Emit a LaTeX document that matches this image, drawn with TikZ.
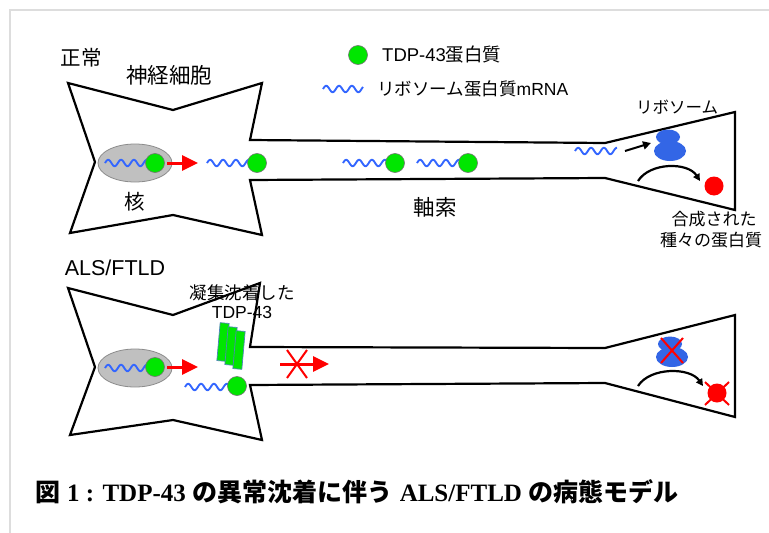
\documentclass[tikz,border=0pt]{standalone}
\usepackage{fontspec}
\setmainfont{Liberation Sans}
\newfontfamily\jp{Noto Sans CJK JP}
\newfontfamily\capserif{Liberation Serif}
\usetikzlibrary{arrows.meta}

\definecolor{mrnablue}{RGB}{51,102,255}
\definecolor{tdpgreen}{RGB}{0,230,0}
\definecolor{ribblue}{RGB}{51,102,230}
\definecolor{nucgray}{RGB}{192,192,192}
\definecolor{nucedge}{RGB}{140,140,140}
\definecolor{framegray}{RGB}{221,221,221}
\definecolor{barblue}{RGB}{79,129,189}
\definecolor{hitred}{RGB}{255,0,0}

% mRNA drawn as a short sine wave: start x, end x, baseline y
\newcommand\mrnawave[3]{%
  \draw[wave] plot[domain=#1:#2, samples=70, smooth]
    (\x, {#3 - 3.2*sin(28*(\x-#1))});}

\tikzset{
  cell/.style={draw=black, line width=2.2pt, line join=miter, fill=white},
  wave/.style={draw=mrnablue, line width=1.9pt},
  tdp/.style={circle, draw=black!55, line width=0.6pt, fill=tdpgreen,
    minimum size=19pt, inner sep=0pt},
  prod/.style={circle, fill=hitred, minimum size=19pt, inner sep=0pt},
  aggbar/.style={draw=barblue, line width=0.7pt, fill=tdpgreen,
    minimum width=9pt, minimum height=38pt, inner sep=0pt, rotate=-5},
  lab/.style={inner sep=0pt, font=\fontsize{17.5}{20}\selectfont},
  biglab/.style={inner sep=0pt, font=\fontsize{21.5}{24}\selectfont},
  transport/.style={draw=hitred, line width=3pt,
    -{Triangle[length=16pt,width=15pt]}},
  transl/.style={draw=black, line width=2pt, -{Triangle[length=8pt,width=8pt]}},
  synth/.style={draw=black, line width=2.2pt, -{Triangle[length=7pt,width=7pt]}},
  cross/.style={draw=hitred, line width=2pt},
}

\begin{document}
\begin{tikzpicture}[x=1pt, y=-1pt]
\useasboundingbox (0,0) rectangle (769,533);
\fill[white] (0,0) rectangle (769,533);
% page frame
\draw[framegray, line width=2pt] (10,533) -- (10,10) -- (769,10);

% ---------- normal neuron ----------
\draw[cell] (68,83) -- (173,110) -- (262,83) -- (250,140) -- (605,143)
  -- (735,112) -- (735,210) -- (605,178) -- (250,180) -- (262,235)
  -- (173,215) -- (70,233) -- (95,162) -- cycle;

\node[biglab, font=\fontsize{20.5}{22}\selectfont] (normal) at (81,58) {\jp 正常};
\node[biglab] (neuron) at (169,75) {\jp 神経細胞};

% legend
\node[tdp] (legdot) at (358,55) {};
\node[lab, anchor=west, font=\fontsize{18.5}{20}\selectfont] (legtdp) at (382,55) {TDP-43{\jp 蛋白質}};
\mrnawave{323}{363}{89}
\node[lab, anchor=west] (legrna) at (377,89) {{\jp リボソーム蛋白質}mRNA};

% nucleus
\fill[nucgray, draw=nucedge, line width=0.8pt] (135,163) ellipse [x radius=37, y radius=19];
\mrnawave{105}{147}{163}
\node[tdp] (n1) at (155,163) {};
\node[biglab, font=\fontsize{20.5}{22}\selectfont] (kaku) at (135,202) {\jp 核};
\coordinate (e1) at (167,163);
\coordinate (e1t) at (198,163);
\draw[transport] (e1) -- (e1t);

% mRNA + TDP-43 travelling down the axon
\mrnawave{207}{249}{163}
\node[tdp] (c1) at (257,163) {};
\mrnawave{343}{387}{163}
\node[tdp] (c2) at (395,163) {};
\mrnawave{417}{460}{163}
\node[tdp] (c3) at (468,163) {};
\node[biglab] (axon) at (435,207) {\jp 軸索};

% axon terminal
\node[lab, font=\fontsize{16.5}{18}\selectfont] (ribolab) at (677,107) {\jp リボソーム};
\mrnawave{575}{617}{151}
\coordinate (t1) at (625,151);
\coordinate (t1t) at (651,143);
\draw[transl] (t1) -- (t1t);
\fill[ribblue] (670,151) ellipse [x radius=16, y radius=10];
\fill[ribblue] (668,137) ellipse [x radius=12, y radius=7.5];
\coordinate (s1) at (638,181);
\coordinate (s1t) at (700,181);
\draw[synth] (s1) .. controls (650,162) and (688,162) .. (s1t);
\node[prod] (p1) at (714,186) {};
\node[lab, font=\fontsize{17}{20}\selectfont] (prodlab1) at (714,219) {\jp 合成された};
\node[lab, font=\fontsize{17}{20}\selectfont] (prodlab2) at (711,240) {\jp 種々の蛋白質};

% ---------- ALS/FTLD neuron ----------
\draw[cell] (68,288) -- (173,315) -- (260,283) -- (250,347) -- (605,348)
  -- (735,315) -- (735,417) -- (605,383) -- (250,385) -- (262,440)
  -- (173,420) -- (70,435) -- (95,367) -- cycle;

\node[biglab] (als) at (115,268) {ALS/FTLD};
\node[lab] (agg1) at (242,293) {\jp 凝集沈着した};
\node[lab] (agg2) at (242,312) {TDP-43};

% aggregated TDP-43
\node[aggbar] (b1) at (223,342) {};
\node[aggbar] (b2) at (231,346) {};
\node[aggbar] (b3) at (239,350) {};

% nucleus
\fill[nucgray, draw=nucedge, line width=0.8pt] (135,368) ellipse [x radius=37, y radius=19];
\mrnawave{105}{147}{368}
\node[tdp] (n2) at (155,367) {};
\coordinate (e2) at (167,367);
\coordinate (e2t) at (198,367);
\draw[transport] (e2) -- (e2t);
\mrnawave{185}{228}{387}
\node[tdp] (c4) at (237,386) {};

% blocked transport
\coordinate (bx) at (280,364);
\coordinate (bxt) at (329,364);
\draw[transport] (bx) -- (bxt);
\coordinate (xc) at (297,364);
\draw[cross] (xc) ++(-10,-14) -- ++(20,28);
\draw[cross] (xc) ++(10,-14) -- ++(-20,28);

% terminal without translation
\fill[ribblue] (672,357) ellipse [x radius=16, y radius=10];
\fill[ribblue] (670,344) ellipse [x radius=12, y radius=7.5];
\coordinate (rx) at (672,350);
\draw[cross] (rx) ++(-11,-12) -- ++(22,25);
\draw[cross] (rx) ++(11,-12) -- ++(-22,25);
\coordinate (s2) at (638,386);
\coordinate (s2t) at (703,386);
\draw[synth] (s2) .. controls (650,367) and (690,367) .. (s2t);
\node[prod] (p2) at (717,393) {};
\draw[cross] (p2.center) ++(-12,-11) -- ++(24,23);
\draw[cross] (p2.center) ++(12,-11) -- ++(-24,23);

% caption
\node[anchor=west, inner sep=0pt, font=\fontsize{25}{28}\selectfont\bfseries] (caption) at (35,492)
  {{\jp 図} {\capserif 1 : TDP-43} {\jp の異常沈着に伴う} {\capserif ALS/FTLD} {\jp の病態モデル}};
\end{tikzpicture}
\end{document}
